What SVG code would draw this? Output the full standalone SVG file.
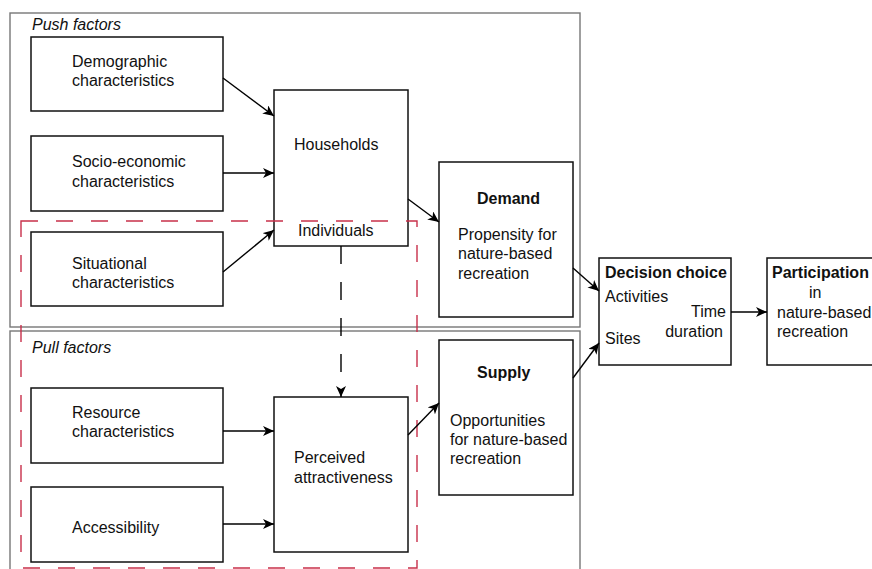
<svg xmlns="http://www.w3.org/2000/svg" width="872" height="569" viewBox="0 0 872 569">
<defs>
<marker id="arr" markerUnits="userSpaceOnUse" markerWidth="12" markerHeight="10" refX="11" refY="5" orient="auto">
<path d="M0,0 L11,5 L0,10 L3,5 Z" fill="#000"/>
</marker>
<style>
text{font-family:"Liberation Sans",Arial,sans-serif;font-size:16px;fill:#111}
.b{font-weight:bold}
.i{font-style:italic}
.box{fill:#fff;stroke:#111;stroke-width:1.5}
.frame{fill:none;stroke:#777;stroke-width:1.4}
.red{fill:none;stroke:#c8304a;stroke-width:1.4;stroke-dasharray:17 18}
.c{fill:none;stroke:#000;stroke-width:1.4;marker-end:url(#arr)}
.d{fill:none;stroke:#000;stroke-width:1.4;stroke-dasharray:18 18;marker-end:url(#arr)}
</style>
</defs>
<rect width="872" height="569" fill="#fff"/>
<g id="push-frame">
<rect class="frame" x="10" y="13" width="570" height="314"/>
<text class="i" x="32" y="30">Push factors</text>
</g>
<g id="pull-frame">
<rect class="frame" x="10" y="331" width="570" height="250"/>
<text class="i" x="32" y="353">Pull factors</text>
</g>
<g id="demographic">
<rect class="box" x="31" y="37" width="192" height="74"/>
<text x="72" y="67">Demographic</text>
<text x="72" y="86">characteristics</text>
</g>
<g id="socio">
<rect class="box" x="31" y="136" width="192" height="75"/>
<text x="72" y="167">Socio-economic</text>
<text x="72" y="187">characteristics</text>
</g>
<g id="situational">
<rect class="box" x="31" y="232" width="192" height="74"/>
<text x="72" y="269">Situational</text>
<text x="72" y="288">characteristics</text>
</g>
<g id="households">
<rect class="box" x="274" y="90" width="134" height="156"/>
<text x="294" y="150">Households</text>
<text x="298" y="236">Individuals</text>
</g>
<g id="resource">
<rect class="box" x="31" y="388" width="192" height="75"/>
<text x="72" y="418">Resource</text>
<text x="72" y="437">characteristics</text>
</g>
<g id="accessibility">
<rect class="box" x="31" y="487" width="192" height="75"/>
<text x="72" y="533">Accessibility</text>
</g>
<g id="perceived">
<rect class="box" x="274" y="397" width="134" height="155"/>
<text x="294" y="463">Perceived</text>
<text x="294" y="483">attractiveness</text>
</g>
<g id="demand">
<rect class="box" x="439" y="162" width="134" height="155"/>
<text class="b" x="477" y="204">Demand</text>
<text x="458" y="240">Propensity for</text>
<text x="458" y="259">nature-based</text>
<text x="458" y="279">recreation</text>
</g>
<g id="supply">
<rect class="box" x="439" y="340" width="134" height="155"/>
<text class="b" x="477" y="378">Supply</text>
<text x="450" y="426">Opportunities</text>
<text x="450" y="445">for nature-based</text>
<text x="450" y="464">recreation</text>
</g>
<g id="decision">
<rect class="box" x="599" y="258" width="132" height="107"/>
<text class="b" x="605" y="278">Decision choice</text>
<text x="605" y="302">Activities</text>
<text x="726" y="317" text-anchor="end">Time</text>
<text x="723" y="337" text-anchor="end">duration</text>
<text x="605" y="344">Sites</text>
</g>
<g id="participation">
<rect class="box" x="767" y="258" width="110" height="107"/>
<text class="b" x="772" y="278">Participation</text>
<text x="809" y="298">in</text>
<text x="777" y="318">nature-based</text>
<text x="777" y="337">recreation</text>
</g>
<g id="individuals-region">
<rect class="red" x="21" y="221" width="396" height="347"/>
</g>
<g id="connectors">
<line class="c" x1="223" y1="78" x2="274" y2="116"/>
<line class="c" x1="223" y1="173" x2="274" y2="173"/>
<line class="c" x1="223" y1="272" x2="274" y2="230"/>
<line class="c" x1="408" y1="199" x2="439" y2="222"/>
<line class="c" x1="573" y1="268" x2="599" y2="291"/>
<line class="c" x1="573" y1="378" x2="599" y2="343"/>
<line class="c" x1="408" y1="435" x2="439" y2="403"/>
<line class="c" x1="223" y1="431" x2="274" y2="431"/>
<line class="c" x1="223" y1="524" x2="274" y2="524"/>
<line class="c" x1="731" y1="312" x2="767" y2="312"/>
<line class="d" x1="341" y1="246" x2="341" y2="397"/>
</g>
</svg>
